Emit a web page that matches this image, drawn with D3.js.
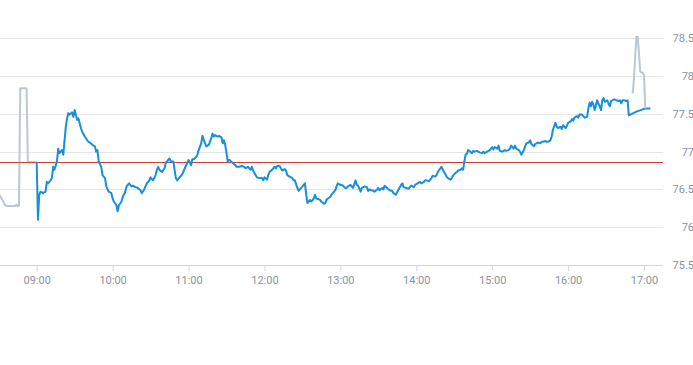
<!DOCTYPE html>
<html>
<head>
<meta charset="utf-8">
<script src="https://cdn.jsdelivr.net/npm/d3@7"></script>
<style>
  html, body { margin: 0; padding: 0; background: #ffffff; }
  svg { display: block; }
  text { font-family: Roboto, "Open Sans", sans-serif; }
</style>
</head>
<body>
<svg id="chart" width="693" height="365"></svg>
<script>
// ---- Data ----
const preTimes = ["08:30","08:33","08:35","08:37","08:43","08:44","08:45","08:46","08:47","08:52","08:53","09:00"];
const preValues = [76.44,76.36,76.29,76.28,76.28,76.30,76.28,76.28,77.84,77.84,76.86,76.86];

const times = ["09:00","09:01","09:02","09:03","09:05","09:07","09:08","09:09","09:11","09:12","09:13","09:14","09:16","09:17","09:18","09:20","09:21","09:23","09:24","09:25","09:26","09:28","09:29","09:30","09:32","09:33","09:35","09:36","09:38","09:40","09:41","09:42","09:44","09:46","09:47","09:48","09:49","09:51","09:52","09:54","09:55","09:57","09:59",
"10:00","10:01","10:03","10:04","10:05","10:07","10:08","10:10","10:11","10:13","10:15","10:16","10:18","10:20","10:22","10:23","10:25","10:27","10:29","10:30","10:32","10:34","10:35","10:36","10:37","10:39","10:41","10:42","10:44","10:45","10:46","10:48","10:49","10:50","10:51","10:53","10:55","10:57","10:59",
"11:00","11:02","11:03","11:04","11:06","11:07","11:08","11:10","11:11","11:12","11:14","11:16","11:18","11:19","11:20","11:21","11:23","11:24","11:26","11:27","11:28","11:29","11:31","11:32","11:33","11:35","11:37","11:38","11:40","11:42","11:44","11:45","11:47","11:49","11:50","11:51","11:53","11:54","11:56","11:58","11:59",
"12:00","12:02","12:03","12:04","12:06","12:08","12:09","12:10","12:12","12:13","12:14","12:16","12:17","12:18","12:20","12:22","12:23","12:24","12:26","12:27","12:28","12:29","12:31","12:32","12:33","12:34","12:35","12:36","12:37","12:39","12:40","12:41","12:43","12:44","12:45","12:47","12:48","12:49","12:50","12:52","12:53","12:54","12:56","12:57","12:58",
"13:00","13:01","13:02","13:04","13:05","13:06","13:08","13:09","13:10","13:12","13:13","13:14","13:16","13:17","13:18","13:19","13:21","13:22","13:23","13:25","13:26","13:27","13:29","13:30","13:31","13:33","13:34","13:35","13:37","13:38","13:39","13:41","13:42","13:44","13:45","13:46","13:48","13:49","13:50","13:52","13:54","13:55","13:56","13:58","13:59",
"14:00","14:02","14:03","14:04","14:06","14:07","14:08","14:10","14:11","14:12","14:13","14:15","14:16","14:17","14:19","14:20","14:21","14:23","14:24","14:25","14:27","14:28","14:29","14:31","14:32","14:33","14:35","14:36","14:37","14:38","14:39","14:40","14:41","14:42","14:44","14:45","14:46","14:48","14:49","14:50","14:52","14:53","14:54","14:56","14:57","14:58",
"15:00","15:01","15:02","15:04","15:05","15:06","15:08","15:09","15:10","15:11","15:13","15:14","15:15","15:17","15:18","15:19","15:21","15:22","15:23","15:25","15:26","15:27","15:29","15:30","15:31","15:33","15:34","15:35","15:36","15:38","15:39","15:40","15:42","15:43","15:44","15:46","15:47","15:48","15:50","15:51","15:52","15:54","15:55","15:56","15:58","15:59",
"16:00","16:02","16:03","16:04","16:05","16:07","16:08","16:09","16:11","16:12","16:13","16:15","16:16","16:17","16:18","16:19","16:20","16:21","16:23","16:24","16:25","16:26","16:27","16:28","16:29","16:31","16:32","16:33","16:34","16:36","16:37","16:38","16:40","16:41","16:42","16:43","16:44","16:46","16:47","16:48","16:54","16:59","17:01","17:05"];
const values = [76.86,76.10,76.43,76.47,76.45,76.47,76.60,76.58,76.62,76.65,76.80,76.76,76.87,77.04,76.98,77.02,76.96,77.33,77.44,77.51,77.49,77.52,77.46,77.55,77.42,77.44,77.31,77.26,77.20,77.15,77.13,77.12,77.09,77.07,77.00,77.02,76.87,76.80,76.69,76.65,76.54,76.47,76.45,
76.38,76.34,76.29,76.21,76.29,76.34,76.40,76.47,76.54,76.58,76.54,76.55,76.53,76.52,76.49,76.45,76.50,76.58,76.62,76.66,76.62,76.69,76.76,76.80,76.76,76.73,76.78,76.85,76.89,76.91,76.87,76.87,76.76,76.65,76.62,76.66,76.70,76.78,76.85,
76.89,76.82,76.90,76.90,76.93,76.96,77.02,77.11,77.21,77.16,77.07,77.09,77.18,77.24,77.20,77.22,77.20,77.21,77.19,77.11,77.15,77.09,76.87,76.89,76.88,76.85,76.82,76.80,76.80,76.81,76.80,76.78,76.80,76.76,76.80,76.75,76.69,76.66,76.65,76.65,76.62,
76.66,76.63,76.69,76.73,76.76,76.80,76.78,76.81,76.81,76.78,76.75,76.77,76.75,76.69,76.67,76.65,76.62,76.62,76.52,76.48,76.50,76.52,76.56,76.58,76.43,76.32,76.34,76.36,76.34,76.38,76.43,76.38,76.37,76.36,76.34,76.31,76.32,76.36,76.38,76.40,76.43,76.45,76.49,76.54,76.58,
76.56,76.56,76.55,76.52,76.52,76.54,76.56,76.54,76.52,76.62,76.56,76.55,76.47,76.52,76.53,76.54,76.53,76.48,76.50,76.49,76.48,76.47,76.50,76.52,76.49,76.52,76.50,76.55,76.52,76.50,76.49,76.48,76.45,76.43,76.47,76.50,76.56,76.58,76.53,76.52,76.51,76.53,76.55,76.53,76.56,
76.57,76.59,76.60,76.58,76.60,76.62,76.62,76.61,76.63,76.65,76.68,76.67,76.69,76.73,76.78,76.80,76.76,76.70,76.67,76.65,76.63,76.65,76.68,76.72,76.73,76.75,76.76,76.78,76.76,76.87,76.96,76.97,77.02,77.01,76.98,77.01,77.00,77.01,77.00,76.99,76.98,77.00,76.98,77.00,77.01,77.02,
77.06,77.03,77.06,77.04,77.08,77.01,77.00,77.01,77.02,77.01,77.02,77.04,77.08,77.04,77.08,77.04,77.02,77.00,76.96,77.02,77.07,77.11,77.12,77.15,77.10,77.07,77.10,77.11,77.12,77.11,77.13,77.13,77.14,77.13,77.13,77.15,77.20,77.29,77.38,77.33,77.31,77.33,77.30,77.35,77.31,77.34,
77.38,77.40,77.43,77.41,77.45,77.47,77.45,77.49,77.49,77.47,77.45,77.46,77.57,77.65,77.60,77.66,77.62,77.55,77.68,77.63,77.60,77.55,77.68,77.71,77.66,77.68,77.63,77.60,77.67,77.69,77.69,77.68,77.67,77.68,77.64,77.68,77.68,77.67,77.68,77.48,77.53,77.56,77.57,77.57];

const postTimes = ["16:51","16:52","16:53","16:54","16:55","16:56","16:57","16:59","17:00","17:01"];
const postValues = [77.77,77.95,78.26,78.52,78.52,78.30,78.06,78.04,78.01,77.57];

const refValue = 76.86;
const yTicks = [75.5, 76, 76.5, 77, 77.5, 78, 78.5];
const xTickLabels = ["09:00","10:00","11:00","12:00","13:00","14:00","15:00","16:00","17:00"];
const xDomain = ["08:30","17:15"];

// ---- Chart ----
const parse = d3.timeParse("%H:%M");
const fmt = d3.timeFormat("%H:%M");
const plotRight = 663, plotBottom = 265;

const x = d3.scaleTime().domain(xDomain.map(parse)).range([-1.26, plotRight]);
const y = d3.scaleLinear().domain([75.5, 78.5]).range([plotBottom, 38.3]);

const svg = d3.select("#chart");

// grid lines
svg.append("g").selectAll("line").data(yTicks.filter(d => d !== 75.5)).join("line")
  .attr("x1", 0).attr("x2", plotRight)
  .attr("y1", d => Math.round(y(d)) + 0.5).attr("y2", d => Math.round(y(d)) + 0.5)
  .attr("stroke", "#e6e6e6").attr("stroke-width", 1);

// y labels (right)
svg.append("g").selectAll("text").data(yTicks).join("text")
  .attr("x", 694).attr("y", d => y(d) + 4)
  .attr("text-anchor", "end")
  .attr("font-size", 11).attr("fill", "#8a939d")
  .text(d => String(d));

// x axis
const xAxis = d3.axisBottom(x)
  .tickValues(xTickLabels.map(parse))
  .tickFormat(fmt)
  .tickSize(6)
  .tickSizeOuter(0);
const gx = svg.append("g").attr("transform", `translate(0,${plotBottom})`).call(xAxis);
gx.select(".domain").attr("stroke", "#ccd6eb").attr("d", `M0,0.5H${plotRight}`);
gx.selectAll(".tick line").attr("stroke", "#ccd6eb");
gx.selectAll(".tick text").attr("font-size", 11).attr("fill", "#8a939d")
  .attr("font-family", "Roboto, sans-serif").attr("dy", "0.95em");

const line = d3.line().x(d => x(d[0])).y(d => y(d[1]));
const zip = (t, v) => t.map((s, i) => [parse(s), v[i]]);

svg.append("path").datum(zip(preTimes, preValues)).attr("d", line)
  .attr("fill", "none").attr("stroke", "#bcc7d1").attr("stroke-width", 2).attr("stroke-linejoin", "round");

// reference line
svg.append("line")
  .attr("x1", 0).attr("x2", plotRight)
  .attr("y1", Math.round(y(refValue)) + 0.5).attr("y2", Math.round(y(refValue)) + 0.5)
  .attr("stroke", "#d43c3c").attr("stroke-width", 1);

svg.append("path").datum(zip(times, values)).attr("d", line)
  .attr("fill", "none").attr("stroke", "#168fdc").attr("stroke-width", 2).attr("stroke-linejoin", "round");

svg.append("path").datum(zip(postTimes, postValues)).attr("d", line)
  .attr("fill", "none").attr("stroke", "#bcc7d1").attr("stroke-width", 2).attr("stroke-linejoin", "round");
</script>
</body>
</html>
